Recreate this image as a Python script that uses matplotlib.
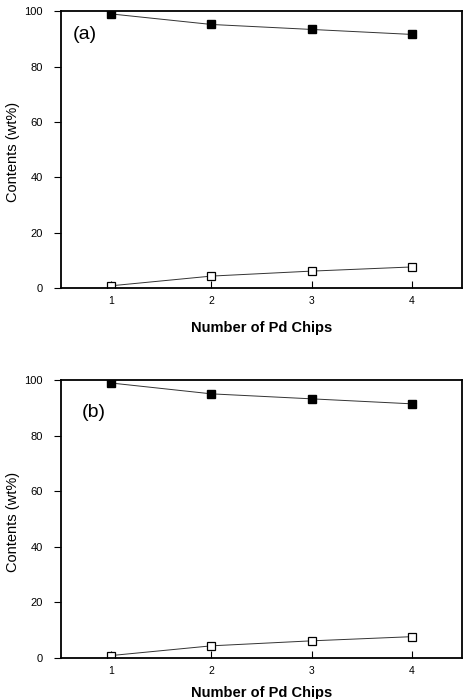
import numpy as np
import matplotlib.pyplot as plt

plt.rcParams['font.family'] = ['Liberation Sans', 'DejaVu Sans']

# data (same in both panels)
chips = [1, 2, 3, 4]
filled_a = [99.0, 95.2, 93.4, 91.6]
open_a = [0.8, 4.3, 6.1, 7.6]
filled_b = [99.0, 95.1, 93.3, 91.5]
open_b = [0.8, 4.3, 6.1, 7.6]
yticks = [0, 20, 40, 60, 80, 100]
panels = ['(a)', '(b)']

fig = plt.figure(figsize=(4.63, 6.99), dpi=100)
ax_a = fig.add_axes([0.132, 0.588, 0.866, 0.396])
ax_b = fig.add_axes([0.132, 0.059, 0.866, 0.397])

# label spots in axes fraction
lab_pos = [(0.03, 0.917), (0.052, 0.885)]

for ax, f, o, lab, xl_y, lp in zip([ax_a, ax_b], [filled_a, filled_b], [open_a, open_b],
                                   panels, [-0.118, -0.102], lab_pos):
    ax.plot(chips, f, color='#333333', lw=0.7, marker='s', ms=5.5,
            mfc='black', mec='black')
    ax.plot(chips, o, color='#333333', lw=0.7, marker='s', ms=5.5,
            mfc='white', mec='black', mew=0.9)
    ax.set_xlim(0.5, 4.5)
    ax.set_ylim(0, 100)
    ax.set_xticks(chips)
    ax.set_yticks(yticks)
    ax.tick_params(axis='x', direction='in', length=5, labelsize=7.5, pad=6)
    ax.tick_params(axis='y', direction='out', length=5, labelsize=8, pad=8)
    for s in ax.spines.values():
        s.set_linewidth(1.3)
    ax.set_ylabel('Contents (wt%)', fontsize=10.5)
    ax.yaxis.set_label_coords(-0.102, 0.49)
    ax.set_xlabel('Number of Pd Chips', fontsize=10.5, fontweight='bold')
    ax.xaxis.set_label_coords(0.5, xl_y)
    ax.text(lp[0], lp[1], lab, transform=ax.transAxes, fontsize=14,
            ha='left', va='center')

fig.savefig('out.png', dpi=100)
